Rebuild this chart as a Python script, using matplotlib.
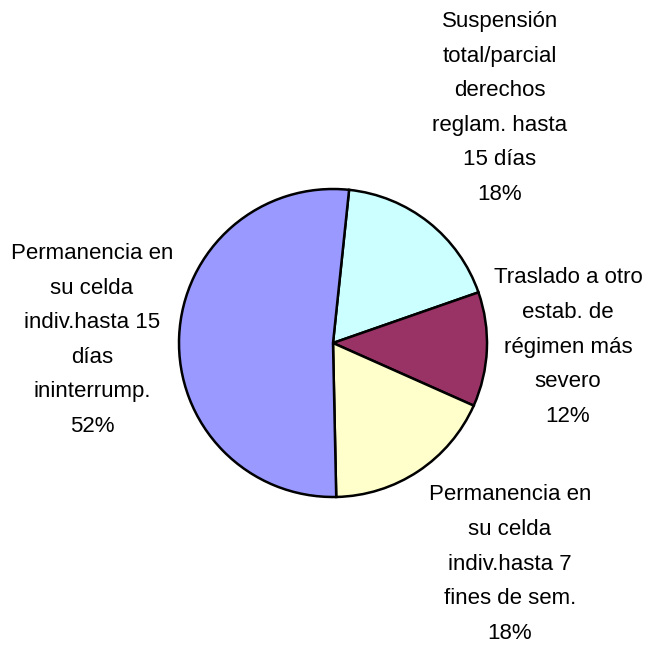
import matplotlib
matplotlib.use('Agg')
import matplotlib.pyplot as plt
from matplotlib import font_manager

# Data
categories = [
    "Suspensión\ntotal/parcial\nderechos\nreglam. hasta\n15 días",
    "Traslado a otro\nestab. de\nrégimen más\nsevero",
    "Permanencia en\nsu celda\nindiv.hasta 7\nfines de sem.",
    "Permanencia en\nsu celda\nindiv.hasta 15\ndías\nininterrump.",
]
percentages = [18, 12, 18, 52]
colors = ["#CCFFFF", "#993366", "#FFFFCC", "#9999FF"]

# label centres in figure pixels (x, y from top)
label_pos = [(500, 108), (568, 347), (510, 564), (92, 340)]

W, H = 648, 645
names = {f.name for f in font_manager.fontManager.ttflist}
font = "Liberation Sans Narrow" if "Liberation Sans Narrow" in names else "Liberation Sans"
fsize = 18 if font == "Liberation Sans Narrow" else 16

fig = plt.figure(figsize=(W / 100, H / 100), dpi=100)
fig.patch.set_facecolor("white")

# pie centre (333, 343), radius 154 px
cx, cy, r = 333, 343, 154
ax = fig.add_axes([(cx - r) / W, (H - cy - r) / H, 2 * r / W, 2 * r / H])
ax.pie(percentages, colors=colors, startangle=84.0, counterclock=False,
       wedgeprops=dict(edgecolor="black", linewidth=1.8))
ax.set_xlim(-1, 1)
ax.set_ylim(-1, 1)
ax.set_aspect("equal")
ax.axis("off")

for name, pct, (x, y) in zip(categories, percentages, label_pos):
    fig.text(x / W, 1 - y / H, "{}\n{}%".format(name, pct),
             ha="center", va="center", multialignment="center",
             fontsize=fsize, family=font, linespacing=1.85, color="black")

fig.savefig("out.png", dpi=100)
